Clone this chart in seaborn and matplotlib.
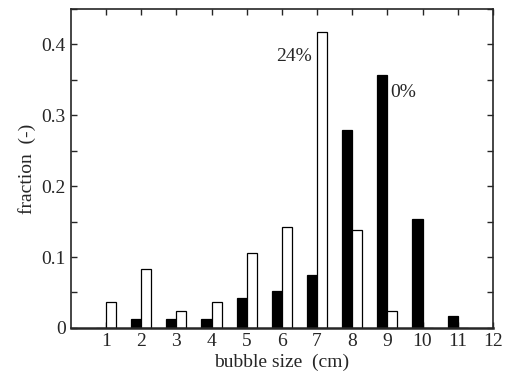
import pandas as pd
import numpy as np
import matplotlib
matplotlib.use('Agg')
import matplotlib.pyplot as plt
import seaborn as sns
from matplotlib.ticker import MultipleLocator, FuncFormatter

# bubble size classes (cm)
sizes = [1, 2, 3, 4, 5, 6, 7, 8, 9, 10, 11]
# fraction per class, 0% and 24% series
frac_0 = [0.0, 0.012, 0.012, 0.012, 0.042, 0.052, 0.074, 0.279, 0.357, 0.154, 0.017]
frac_24 = [0.037, 0.083, 0.024, 0.037, 0.106, 0.142, 0.417, 0.138, 0.024, 0.0, 0.0]

df = pd.DataFrame({
    'size': sizes * 2,
    'fraction': frac_0 + frac_24,
    'case': ['0%'] * len(sizes) + ['24%'] * len(sizes),
})

sns.set_style('ticks')
plt.rcParams['font.family'] = ['Liberation Serif', 'DejaVu Serif']
plt.rcParams['font.size'] = 14

fig = plt.figure(figsize=(5.06, 3.76), dpi=100)
ax = fig.add_axes([0.140, 0.128, 0.834, 0.848])

sns.barplot(
    data=df, x='size', y='fraction', hue='case',
    hue_order=['0%', '24%'],
    palette={'0%': 'black', '24%': 'white'},
    native_scale=True, dodge=True, width=0.57,
    edgecolor='black', linewidth=0.9, saturation=1,
    legend=False, ax=ax,
)

ax.set_xlim(0, 12)
ax.set_ylim(0, 0.45)
ax.set_xticks(range(1, 13))
ax.yaxis.set_major_locator(MultipleLocator(0.1))
ax.yaxis.set_minor_locator(MultipleLocator(0.05))
ax.yaxis.set_major_formatter(FuncFormatter(lambda v, p: '0' if v == 0 else f'{v:.1f}'))

ax.tick_params(which='both', direction='in', top=True, right=True,
               length=4, width=1, labelsize=14)
for s in ax.spines.values():
    s.set_linewidth(1.2)
ax.spines['bottom'].set_linewidth(1.8)

ax.set_xlabel('bubble size  (cm)', fontsize=14, labelpad=3)
ax.set_ylabel('fraction  (-)', fontsize=14)

ax.text(6.84, 0.383, '24%', ha='right', va='center', fontsize=14)
ax.text(9.09, 0.332, '0%', ha='left', va='center', fontsize=14)

fig.savefig('out.png', dpi=100)
